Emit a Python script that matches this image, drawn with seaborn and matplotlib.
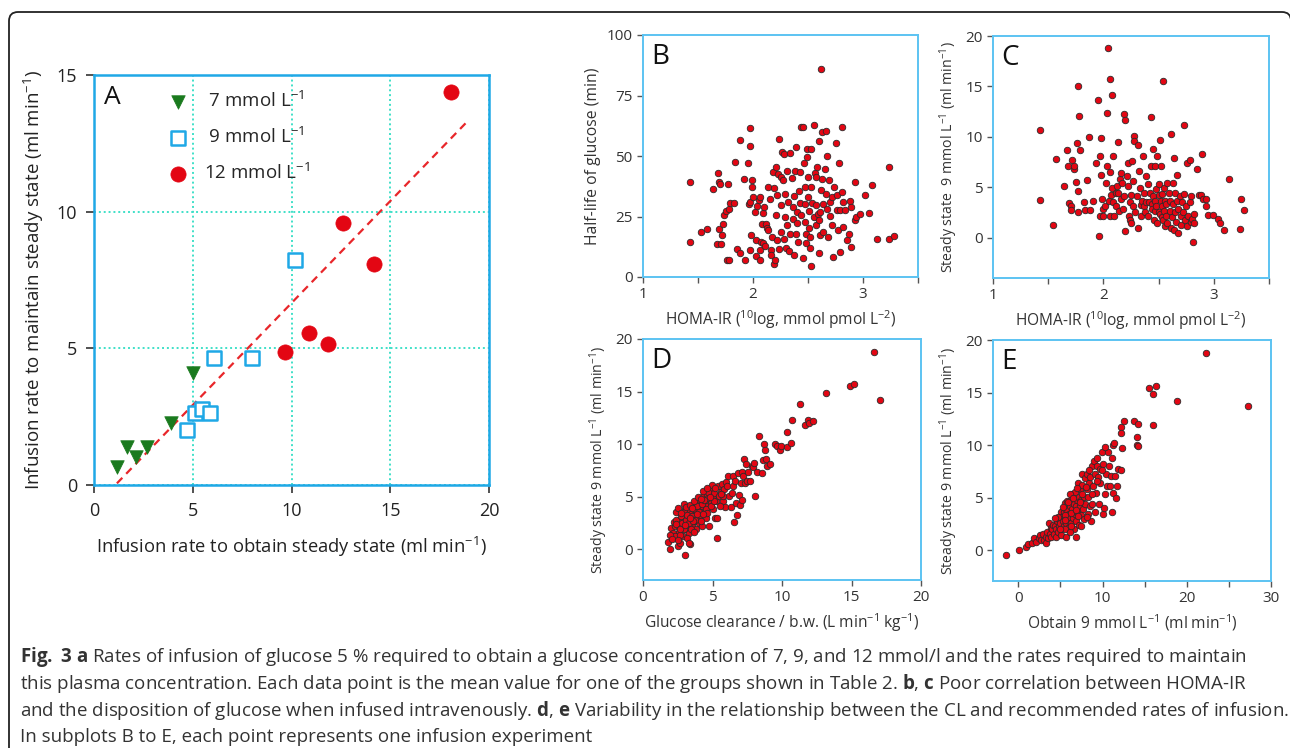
import numpy as np
import pandas as pd
import seaborn as sns
import matplotlib.pyplot as plt
from matplotlib.patches import FancyBboxPatch
from matplotlib.transforms import IdentityTransform

# ---- Panel A: group means (obtain vs maintain), ml/min
a7_x = [1.16, 1.69, 2.11, 2.68, 3.90, 5.00]
a7_y = [0.67, 1.38, 1.04, 1.40, 2.28, 4.11]
a9_x = [4.72, 5.09, 5.48, 5.89, 6.10, 7.99, 10.20]
a9_y = [2.01, 2.62, 2.78, 2.62, 4.63, 4.63, 8.23]
a12_x = [9.68, 10.91, 11.84, 12.60, 14.20, 18.08]
a12_y = [4.88, 5.55, 5.15, 9.60, 8.09, 14.39]
fit_x = [1.16, 18.97]
fit_y = [0.06, 13.35]
a_labels = [" 7 mmol L$^{-1}$", " 9 mmol L$^{-1}$", "12 mmol L$^{-1}$"]

# ---- Panel B: HOMA-IR vs half-life (min)
b_pts = [
    (1.43, 14.5), (1.43, 39.3), (1.53, 18.5), (1.58, 20.0), (1.64, 36.5), (1.68, 42.8), (1.69, 39.3), (1.70, 38.3),
    (1.67, 13.5), (1.71, 13.8), (1.69, 20.0), (1.72, 17.2), (1.73, 21.8), (1.74, 25.5), (1.75, 27.3), (1.78, 28.3),
    (1.76, 6.9), (1.78, 7.2), (1.77, 38.6), (1.79, 30.6), (1.83, 30.6), (1.84, 47.6), (1.85, 11.7), (1.88, 56.8),
    (1.88, 10.1), (1.92, 40.7), (1.93, 7.2), (1.95, 47.2), (1.96, 30.0), (1.97, 61.4), (1.97, 54.3), (1.97, 11.0),
    (1.98, 17.2), (1.97, 31.0), (1.99, 40.0), (1.99, 37.2), (2.00, 33.1), (2.02, 26.9), (2.03, 15.2), (2.03, 8.8),
    (2.04, 29.5), (2.05, 31.7), (2.06, 33.1), (2.06, 11.0), (2.07, 14.5), (2.06, 6.9), (2.08, 21.8), (2.09, 14.0),
    (2.09, 26.5), (2.10, 29.0), (2.11, 12.8), (2.12, 21.8), (2.13, 20.4), (2.14, 37.0), (2.15, 32.1), (2.14, 19.6),
    (2.16, 11.0), (2.16, 9.0), (2.17, 16.6), (2.18, 43.4), (2.19, 36.6), (2.19, 5.5), (2.20, 6.9), (2.21, 45.5),
    (2.21, 25.5), (2.22, 33.8), (2.22, 15.2), (2.23, 42.5), (2.24, 57.2), (2.24, 11.7), (2.25, 41.4), (2.25, 29.7),
    (2.25, 18.6), (2.26, 51.7), (2.27, 40.0), (2.28, 15.9), (2.28, 51.0), (2.29, 24.8), (2.29, 34.5), (2.30, 12.1),
    (2.31, 43.9), (2.31, 21.4), (2.32, 31.0), (2.33, 10.8), (2.34, 51.3), (2.34, 17.9), (2.35, 41.1), (2.36, 29.0),
    (2.36, 24.1), (2.37, 33.4), (2.37, 9.0), (2.38, 43.7), (2.39, 17.9), (2.39, 53.8), (2.40, 26.9), (2.40, 22.5),
    (2.41, 14.5), (2.42, 35.6), (2.43, 30.6), (2.43, 43.4), (2.44, 61.8), (2.45, 62.1), (2.44, 25.5), (2.45, 8.0),
    (2.46, 47.2), (2.47, 37.2), (2.47, 30.3), (2.47, 22.8), (2.48, 17.9), (2.48, 14.0), (2.49, 49.7), (2.49, 52.7),
    (2.50, 41.4), (2.50, 33.1), (2.51, 27.3), (2.51, 20.4), (2.52, 16.6), (2.52, 12.1), (2.53, 4.4), (2.53, 52.7),
    (2.53, 37.2), (2.54, 30.6), (2.55, 24.8), (2.55, 62.8), (2.56, 43.0), (2.57, 41.4), (2.57, 21.4), (2.57, 29.7),
    (2.58, 45.5), (2.59, 26.2), (2.60, 56.3), (2.60, 23.4), (2.60, 9.9), (2.61, 17.2), (2.61, 26.9), (2.62, 36.1),
    (2.63, 60.0), (2.63, 40.7), (2.62, 85.8), (2.64, 30.3), (2.64, 18.6), (2.65, 44.8), (2.66, 34.5), (2.66, 60.3),
    (2.67, 28.3), (2.67, 50.1), (2.68, 16.6), (2.69, 40.0), (2.70, 31.0), (2.70, 25.1), (2.72, 33.1), (2.72, 21.4),
    (2.73, 8.3), (2.74, 37.2), (2.75, 55.4), (2.76, 33.8), (2.76, 27.6), (2.77, 19.3), (2.78, 47.2), (2.79, 10.3),
    (2.79, 27.6), (2.81, 61.8), (2.81, 35.2), (2.82, 20.7), (2.82, 31.0), (2.84, 27.6), (2.85, 15.2), (2.87, 17.9),
    (2.88, 31.3), (2.89, 29.0), (2.89, 12.4), (2.93, 39.3), (2.93, 23.4), (2.94, 24.6), (2.97, 25.9), (3.02, 33.8),
    (3.05, 26.5), (3.08, 37.9), (3.13, 15.9), (3.24, 45.5), (3.24, 15.9), (3.28, 16.8),
]

# ---- Panel C: HOMA-IR vs steady state 9 mmol/L (ml/min)
c_pts = [
    (1.43, 10.7), (1.43, 3.7), (1.54, 1.3), (1.57, 7.8), (1.64, 5.1), (1.67, 8.7), (1.68, 7.1), (1.69, 3.4),
    (1.71, 3.1), (1.71, 2.7), (1.72, 7.7), (1.73, 6.8), (1.73, 7.1), (1.75, 5.5), (1.76, 9.4), (1.77, 15.0),
    (1.77, 4.6), (1.77, 2.5), (1.78, 12.1), (1.79, 8.7), (1.82, 3.5), (1.83, 2.7), (1.85, 5.7), (1.87, 10.0),
    (1.88, 2.7), (1.91, 3.6), (1.93, 7.4), (1.95, 13.7), (1.96, 0.2), (1.97, 2.1), (1.97, 8.1), (1.98, 9.9),
    (1.98, 6.2), (1.99, 3.8), (2.00, 2.8), (2.00, 2.1), (2.01, 3.1), (2.02, 5.4), (2.03, 7.1), (2.03, 12.4),
    (2.04, 18.8), (2.05, 3.6), (2.06, 6.5), (2.06, 15.7), (2.06, 2.1), (2.07, 4.2), (2.08, 14.1), (2.08, 4.9),
    (2.09, 3.5), (2.09, 8.1), (2.10, 2.1), (2.11, 4.4), (2.11, 3.1), (2.12, 5.1), (2.13, 9.5), (2.13, 4.4),
    (2.14, 2.6), (2.15, 5.8), (2.16, 3.8), (2.16, 6.4), (2.17, 5.4), (2.18, 2.8), (2.19, 4.1), (2.19, 12.3),
    (2.20, 11.7), (2.20, 0.7), (2.21, 6.1), (2.22, 5.1), (2.22, 7.4), (2.23, 2.1), (2.24, 3.5), (2.24, 1.8),
    (2.25, 1.5), (2.25, 4.2), (2.26, 7.6), (2.27, 3.1), (2.27, 5.6), (2.28, 10.1), (2.28, 9.6), (2.29, 2.5),
    (2.30, 4.1), (2.31, 9.2), (2.31, 1.0), (2.32, 6.6), (2.33, 4.9), (2.34, 3.2), (2.34, 2.1), (2.35, 3.6),
    (2.36, 8.1), (2.37, 3.1), (2.37, 4.4), (2.38, 2.5), (2.39, 6.1), (2.39, 3.5), (2.40, 2.1), (2.40, 5.3),
    (2.41, 3.5), (2.42, 4.4), (2.43, 7.1), (2.43, 12.0), (2.44, 3.3), (2.44, 2.8), (2.45, 8.8), (2.45, 4.1),
    (2.46, 1.8), (2.47, 3.6), (2.47, 7.1), (2.47, 2.6), (2.48, 4.8), (2.48, 3.1), (2.49, 8.1), (2.49, 1.5),
    (2.50, 5.3), (2.50, 2.5), (2.50, 4.2), (2.51, 9.7), (2.51, 2.3), (2.52, 3.6), (2.52, 7.1), (2.53, 2.0),
    (2.53, 3.1), (2.53, 4.3), (2.54, 15.5), (2.54, 1.8), (2.55, 2.6), (2.55, 4.9), (2.56, 3.6), (2.56, 1.2),
    (2.57, 2.1), (2.57, 3.3), (2.58, 5.4), (2.58, 1.5), (2.59, 4.4), (2.60, 2.6), (2.60, 3.6), (2.61, 1.0),
    (2.61, 10.3), (2.62, 2.0), (2.63, 5.4), (2.63, 3.3), (2.64, 7.9), (2.64, 0.8), (2.65, 2.5), (2.65, 4.4),
    (2.66, 1.6), (2.67, 3.6), (2.67, 6.2), (2.68, 0.5), (2.68, 2.8), (2.69, 4.1), (2.70, 2.1), (2.70, 1.3),
    (2.71, 3.5), (2.72, 2.5), (2.73, 4.3), (2.73, 11.2), (2.74, 1.8), (2.75, 3.1), (2.76, 1.2), (2.76, 7.4),
    (2.77, 2.1), (2.78, 3.5), (2.78, 7.7), (2.79, 1.6), (2.79, 4.1), (2.80, 1.9), (2.81, -0.4), (2.82, 1.5),
    (2.82, 2.3), (2.85, 6.8), (2.87, 4.2), (2.88, 4.2), (2.89, 8.3), (2.90, 3.8), (2.93, 3.8), (2.93, 3.1),
    (2.95, 2.2), (2.99, 2.2), (3.04, 1.9), (3.06, 1.5), (3.09, 0.8), (3.14, 5.8), (3.24, 0.9), (3.25, 3.8),
    (3.27, 2.7),
]

# ---- Panel D: glucose clearance / b.w. vs steady state 9 mmol/L
d_pts = [
    (1.80, 0.7), (1.97, 0.0), (2.04, 2.0), (2.16, 1.6), (2.24, 2.6), (2.33, 2.2), (2.40, 3.6), (2.45, 1.1),
    (2.52, 0.3), (2.57, 1.7), (2.64, 2.8), (2.69, 0.6), (2.76, 2.2), (2.81, 3.3), (2.88, 1.3), (2.96, 2.7),
    (3.00, -0.5), (3.03, 3.8), (3.08, 1.9), (3.13, 3.2), (3.17, 2.4), (3.25, 3.6), (3.29, 1.6), (3.37, 2.8),
    (3.41, 0.5), (3.46, 3.4), (3.53, 2.2), (3.61, 4.1), (3.65, 2.7), (3.73, 3.3), (3.80, 1.9), (3.85, 4.4),
    (3.89, 3.0), (3.97, 3.8), (4.01, 2.5), (4.09, 4.7), (4.13, 3.3), (4.21, 4.1), (4.25, 2.2), (4.33, 5.1),
    (4.38, 3.6), (4.45, 4.4), (4.50, 3.0), (4.57, 5.2), (4.62, 4.1), (4.69, 4.9), (4.76, 2.2), (4.81, 5.7),
    (4.88, 4.4), (4.95, 6.1), (5.00, 5.1), (5.05, 3.8), (5.12, 5.4), (5.17, 3.0), (5.24, 4.6), (5.29, 1.1),
    (5.34, 3.0), (5.41, 6.0), (5.48, 5.1), (5.58, 5.5), (5.65, 6.2), (5.72, 4.6), (5.82, 5.7), (5.89, 4.0),
    (5.96, 6.4), (6.06, 6.0), (6.13, 7.0), (6.20, 5.1), (6.30, 4.0), (6.44, 6.0), (6.49, 7.0), (6.54, 2.6),
    (6.61, 6.5), (6.68, 4.4), (6.78, 3.3), (6.85, 7.3), (6.92, 5.2), (6.97, 4.2), (7.02, 6.3), (7.09, 4.7),
    (7.14, 7.4), (7.21, 7.0), (7.26, 8.6), (7.33, 6.3), (7.40, 8.1), (7.45, 6.5), (7.57, 7.4), (7.69, 6.5),
    (7.81, 7.9), (7.93, 7.8), (7.98, 8.2), (8.05, 5.1), (8.17, 7.4), (8.37, 10.8), (8.53, 7.3), (8.61, 8.5),
    (8.70, 10.0), (8.77, 9.5), (8.85, 8.6), (8.89, 7.9), (9.13, 8.1), (9.50, 10.0), (9.62, 9.8), (9.86, 9.5),
    (9.93, 9.8), (10.34, 11.2), (10.38, 9.7), (10.63, 10.1), (10.70, 12.3), (11.30, 13.8), (11.66, 11.8),
    (11.90, 12.3), (11.97, 12.0), (12.26, 12.2), (13.17, 14.9), (14.90, 15.5), (15.19, 15.7), (16.59, 18.8),
    (17.07, 14.2), (2.28, 1.3), (2.36, 2.8), (2.60, 2.2), (2.71, 3.2), (2.84, 2.5), (2.93, 3.6), (3.08, 2.8),
    (3.20, 3.3), (3.32, 2.5), (3.44, 1.9), (3.56, 3.2), (3.68, 3.8), (3.77, 2.8), (3.92, 4.1), (4.04, 3.6),
    (4.16, 2.7), (4.28, 4.3), (4.40, 4.7), (4.52, 3.8), (4.64, 3.5), (4.71, 5.5), (4.90, 4.1), (5.10, 4.6),
    (5.53, 4.1), (5.77, 5.1), (6.37, 5.4), (2.69, 1.4), (2.93, 1.9), (3.17, 1.1), (3.65, 1.7), (3.29, 0.6),
    (1.92, 1.4), (2.12, 1.0), (2.50, 0.9), (3.61, 2.7), (2.55, 3.9), (2.75, 3.5), (2.98, 4.3), (3.12, 4.0),
    (3.35, 4.2), (3.50, 3.9), (3.70, 4.6), (3.95, 5.0), (4.15, 4.8), (4.35, 5.6), (4.60, 5.8), (2.40, 2.4),
    (2.65, 1.9), (3.00, 2.3), (3.40, 3.0), (3.85, 3.4), (4.30, 3.4), (4.80, 5.0), (5.20, 5.8), (5.60, 5.3),
]

# ---- Panel E: obtain 9 mmol/L vs steady state 9 mmol/L (ml/min)
e_pts = [
    (-1.50, -0.4), (0.08, 0.0), (0.87, 0.3), (1.15, 0.6), (1.67, 0.7), (1.83, 1.2), (2.14, 0.85), (2.46, 1.2),
    (2.62, 1.5), (2.74, 1.0), (2.94, 1.6), (3.06, 1.0), (3.25, 1.3), (3.33, 0.75), (3.45, 1.8), (3.53, 1.2),
    (3.65, 2.6), (3.73, 1.6), (3.85, 2.1), (3.93, 1.3), (4.05, 2.0), (4.13, 2.4), (4.21, 1.6), (4.33, 2.3),
    (4.44, 1.3), (4.52, 2.0), (4.64, 2.8), (4.72, 1.8), (4.84, 2.3), (4.92, 3.0), (5.00, 2.6), (5.04, 3.7),
    (5.12, 2.0), (5.20, 3.2), (5.32, 2.8), (5.40, 3.7), (5.44, 2.3), (5.52, 4.5), (5.60, 3.2), (5.63, 2.6),
    (5.71, 3.9), (5.79, 3.1), (5.83, 4.7), (5.91, 2.1), (5.99, 3.5), (6.03, 2.8), (6.11, 4.2), (6.19, 3.2),
    (6.27, 4.8), (6.31, 2.6), (6.39, 3.9), (6.43, 5.4), (6.51, 3.1), (6.59, 4.4), (6.67, 2.0), (6.71, 3.5),
    (6.79, 5.6), (6.83, 4.2), (6.90, 2.8), (6.98, 4.8), (7.02, 3.7), (7.10, 6.4), (7.18, 5.1), (7.22, 2.4),
    (7.30, 4.2), (7.38, 5.8), (7.42, 3.4), (7.50, 4.8), (7.58, 7.3), (7.62, 6.2), (7.70, 3.9), (7.78, 5.1),
    (7.82, 3.0), (7.90, 6.9), (7.98, 4.4), (8.10, 5.8), (8.17, 7.3), (8.25, 3.5), (8.33, 5.1), (8.41, 6.4),
    (8.49, 4.2), (8.57, 7.0), (8.65, 2.8), (8.73, 8.0), (8.81, 4.4), (8.89, 6.1), (8.97, 8.5), (9.05, 3.7),
    (9.13, 7.3), (9.21, 5.5), (9.29, 8.0), (9.37, 8.8), (9.48, 7.0), (9.60, 4.4), (9.68, 6.4), (9.76, 7.7),
    (9.88, 9.4), (10.00, 3.5), (10.08, 8.2), (10.16, 4.0), (10.28, 5.4), (10.40, 7.3), (10.56, 6.1), (10.67, 9.4),
    (10.79, 8.0), (10.87, 6.1), (10.95, 7.1), (11.07, 8.8), (11.15, 3.7), (11.19, 5.5), (11.27, 10.0), (11.39, 10.2),
    (11.47, 7.1), (11.55, 5.0), (11.67, 6.1), (11.79, 7.7), (12.14, 11.7), (12.18, 11.2), (12.26, 9.7), (12.58, 12.3),
    (13.73, 12.3), (14.05, 10.8), (14.13, 10.0), (14.25, 9.9), (14.25, 12.0), (15.56, 15.4), (15.95, 14.9),
    (16.35, 15.6), (16.03, 11.9), (18.89, 14.2), (22.30, 18.8), (27.22, 13.7),
    (5.12, 1.5), (5.52, 2.0), (5.71, 1.3), (6.11, 1.8), (6.90, 1.3), (7.50, 2.3), (4.72, 3.2), (4.33, 3.1),
    (8.10, 3.2), (6.11, 5.4), (5.30, 4.1), (5.90, 4.6), (6.50, 5.0), (7.00, 5.9), (7.60, 5.4), (8.00, 6.0),
    (8.40, 7.6), (6.20, 3.6), (5.50, 3.4), (6.80, 3.8), (7.30, 4.6), (4.90, 2.0), (5.60, 2.9), (6.30, 2.3),
    (7.10, 3.3), (8.70, 5.4), (9.30, 6.6), (9.90, 7.6), (10.30, 9.8), (12.20, 7.6),
]

caption = [
    r"$\mathbf{Fig.}$ $\mathbf{3}$ $\mathbf{a}$ Rates of infusion of glucose 5 % required to obtain a glucose concentration of 7, 9, and 12 mmol/l and the rates required to maintain",
    r"this plasma concentration. Each data point is the mean value for one of the groups shown in Table 2. $\mathbf{b}$, $\mathbf{c}$ Poor correlation between HOMA-IR",
    r"and the disposition of glucose when infused intravenously. $\mathbf{d}$, $\mathbf{e}$ Variability in the relationship between the CL and recommended rates of infusion.",
    "In subplots B to E, each point represents one infusion experiment",
]

sns.set_theme(style="white")
FONT = "Open Sans"
plt.rcParams['font.family'] = [FONT, 'DejaVu Sans']
plt.rcParams['mathtext.fontset'] = 'custom'
plt.rcParams['mathtext.rm'] = FONT
plt.rcParams['mathtext.bf'] = FONT + ':bold'
plt.rcParams['mathtext.default'] = 'regular'

W, H = 1290, 748
fig = plt.figure(figsize=(W / 100, H / 100), dpi=100)


def add_ax(l, t, r, b):
    return fig.add_axes([l / W, 1 - b / H, (r - l) / W, (b - t) / H])


CYAN = "#1fa8e6"
LIGHT = "#5cc3f2"
RED = "#e30613"

# outer rounded frame
frame = FancyBboxPatch((9, -30), 1282, H - 12 + 30, boxstyle="round,pad=0,rounding_size=9",
                       transform=IdentityTransform(), fill=False, ec="#222222", lw=1.3)
fig.patches.append(frame)

# ---------------- Panel A
ax = add_ax(94, 75, 489, 485)
ax.grid(True, color="#3fe0c8", ls=(0, (1, 1.5)), lw=1.4)
sns.lineplot(x=fit_x, y=fit_y, ax=ax, color="#e8262a", lw=1.6, ls=(0, (3.5, 2.5)))
sns.scatterplot(x=a7_x, y=a7_y, ax=ax, marker="v", s=95, color="#1a7a1e", edgecolor="#1a7a1e",
                linewidth=0.5, label=a_labels[0], zorder=3)
sns.scatterplot(x=a9_x, y=a9_y, ax=ax, marker="s", s=105, facecolor="white", edgecolor=CYAN,
                linewidth=1.8, label=a_labels[1], zorder=3)
sns.scatterplot(x=a12_x, y=a12_y, ax=ax, marker="o", s=120, color=RED, edgecolor=RED,
                linewidth=0.5, label=a_labels[2], zorder=3)
ax.set_xlim(0, 20)
ax.set_ylim(0, 15)
ax.set_xticks([0, 5, 10, 15, 20])
ax.set_yticks([0, 5, 10, 15])
for s in ax.spines.values():
    s.set_color(CYAN)
    s.set_linewidth(1.8)
ax.tick_params(direction="out", length=6, width=1.1, color="#222222", labelsize=13,
               labelcolor="#222222", pad=6, bottom=True, left=True)
ax.set_xlabel("Infusion rate to obtain steady state (ml min$^{-1}$)", fontsize=13.2,
              color="#222222", labelpad=11)
ax.set_ylabel("Infusion rate to maintain steady state (ml min$^{-1}$)", fontsize=13.5,
              color="#222222", labelpad=8)
ax.text(0.025, 0.975, "A", transform=ax.transAxes, fontsize=19, va="top", ha="left", color="#111111")
ax.legend(loc="upper left", bbox_to_anchor=(0.155, 0.98), frameon=False, fontsize=13.5,
          handletextpad=0.6, labelspacing=0.86, borderaxespad=0, handlelength=1.6)


def scatter_panel(box, pts, letter, xlim, ylim, xticks, yticks, minor, xlabel, ylabel, ysize=10.2):
    ax = add_ax(*box)
    df = pd.DataFrame(pts, columns=["x", "y"])
    sns.scatterplot(data=df, x="x", y="y", ax=ax, color=RED, edgecolor="#2b2b2b",
                    linewidth=0.6, s=22, zorder=3)
    ax.set_xlim(*xlim)
    ax.set_ylim(*ylim)
    ax.set_xticks(xticks)
    ax.set_xticks(minor, minor=True)
    ax.set_yticks(yticks)
    for s in ax.spines.values():
        s.set_color(LIGHT)
        s.set_linewidth(1.4)
    ax.tick_params(which="both", direction="out", length=4.5, width=1, color="#555555",
                   labelsize=11, labelcolor="#333333", pad=3, bottom=True, left=True)
    ax.set_xlabel(xlabel, fontsize=11.2, color="#333333", labelpad=4)
    ax.set_ylabel(ylabel, fontsize=ysize, color="#333333", labelpad=4)
    ax.text(0.03, 0.965, letter, transform=ax.transAxes, fontsize=20, va="top", ha="left",
            color="#111111")
    return ax


homa = "HOMA-IR ($^{10}$log, mmol pmol L$^{-2}$)"
steady = "Steady state 9 mmol L$^{-1}$ (ml min$^{-1}$)"
scatter_panel((643, 35, 918, 277), b_pts, "B", (1, 3.5), (0, 100), [1, 2, 3],
              [0, 25, 50, 75, 100], [1.5, 2.5, 3.5], homa, "Half-life of glucose (min)", ysize=11.3)
scatter_panel((993, 36, 1269, 278), c_pts, "C", (1, 3.5), (-4, 20), [1, 2, 3],
              [0, 5, 10, 15, 20], [1.5, 2.5, 3.5], homa,
              "Steady state  9 mmol L$^{-1}$ (ml min$^{-1}$)")
scatter_panel((643, 339, 921, 580), d_pts, "D", (0, 20), (-2.9, 20), [0, 5, 10, 15, 20],
              [0, 5, 10, 15, 20], [], "Glucose clearance / b.w. (L min$^{-1}$ kg$^{-1}$)", steady)
scatter_panel((993, 340, 1271, 581), e_pts, "E", (-3, 30), (-2.9, 20), [0, 10, 20, 30],
              [0, 5, 10, 15, 20], [5, 15, 25], "Obtain 9 mmol L$^{-1}$ (ml min$^{-1}$)", steady)

# caption
for i, line in enumerate(caption):
    fig.text(20 / W, 1 - (657 + 26.5 * i) / H, line, fontsize=13.5, color="#333333",
             va="center", ha="left")

fig.savefig("out.png", dpi=100)
